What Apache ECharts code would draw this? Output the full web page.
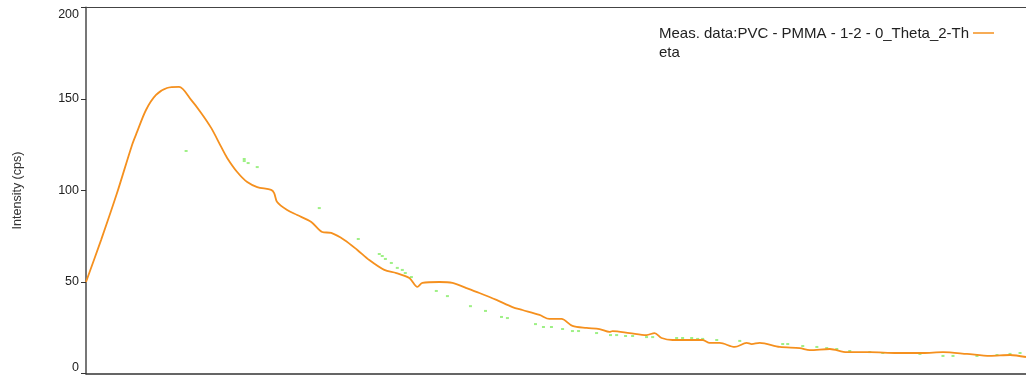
<!DOCTYPE html>
<html>
<head>
<meta charset="utf-8">
<script src="https://cdn.jsdelivr.net/npm/echarts@6/dist/echarts.min.js"></script>
<style>
html,body{margin:0;padding:0;background:#fff;}
#c{width:1026px;height:379px;}
</style>
</head>
<body>
<div id="c"></div>
<script>
// 2-Theta positions (deg) and intensities (cps) of measured curve
const measX = [5.00,5.96,6.98,7.94,8.26,8.83,9.47,10.17,10.94,11.71,12.35,12.99,13.63,14.01,14.65,15.29,15.93,16.82,17.01,17.20,17.84,18.48,19.38,20.08,20.65,21.49,22.32,23.08,24.04,24.81,25.64,26.15,26.47,27.56,28.39,29.28,30.11,31.20,32.22,32.86,33.95,34.58,35.35,36.05,36.95,37.78,38.42,38.61,39.70,40.78,41.29,41.74,42.44,43.53,44.36,44.81,45.45,46.41,47.17,47.49,48.00,49.28,50.56,51.20,52.48,53.56,55.03,56.76,58.42,59.70,61.23,62.70,63.98,65.00];
const measY = [50.0,72.9,98.6,124.9,132.0,144.0,152.2,156.0,156.6,149.5,142.4,134.2,123.8,117.8,110.1,104.6,101.9,100.3,98.6,93.7,89.3,86.6,82.8,77.3,76.8,73.0,67.5,62.0,56.6,54.9,52.2,47.3,49.5,50.0,49.5,46.7,44.0,40.2,36.3,34.7,32.0,29.8,29.8,26.0,24.9,24.3,22.7,23.2,22.1,21.0,22.1,19.4,18.3,18.3,18.3,16.7,16.7,14.5,16.7,16.1,16.7,14.5,13.9,12.8,13.4,11.7,11.7,11.2,11.2,11.7,10.7,9.6,10.1,9.0];
// faint green secondary points
const greenX = [11.39,15.10,15.10,15.35,15.93,19.89,22.38,23.72,23.91,24.11,24.49,24.87,25.19,25.38,25.77,27.36,28.07,29.54,30.50,31.52,31.90,33.69,34.20,34.71,35.42,36.05,36.44,37.59,38.48,38.87,39.44,39.89,40.78,41.17,42.70,43.08,43.66,44.04,44.36,45.26,46.73,49.47,49.79,50.75,51.65,52.28,52.92,53.75,55.03,55.86,57.14,58.23,59.70,60.34,61.87,63.15,63.98,64.62];
const greenY = [121.6,117.2,116.1,115.0,112.8,90.4,73.5,65.3,64.2,62.6,60.4,57.7,56.6,54.9,52.7,45.1,42.3,36.8,34.2,30.9,30.3,27.0,25.4,25.4,24.3,23.2,23.2,22.1,21.0,21.0,20.5,20.5,19.9,19.9,19.4,19.4,19.4,18.9,18.9,18.3,17.8,16.1,16.1,15.0,14.5,13.9,13.4,12.3,11.7,11.2,11.2,10.7,9.6,9.6,9.6,10.1,10.7,11.2];
const yTicks = [0,50,100,150,200];
const seriesName = 'Meas. data:PVC - PMMA - 1-2 - 0_Theta_2-Theta';
const yTitle = 'Intensity (cps)';

const chart = echarts.init(document.getElementById('c'), null, {renderer:'canvas'});
const font = '"Liberation Sans", Arial, sans-serif';
chart.setOption({
  animation:false,
  backgroundColor:'#fff',
  grid:{left:86, right:0, top:7.5, bottom:5.5, show:false},
  xAxis:[
    {type:'value', min:5, max:65, axisLine:{show:true, lineStyle:{color:'#333', width:1.5}}, axisTick:{show:false}, axisLabel:{show:false}, splitLine:{show:false}},
    {type:'value', position:'top', min:5, max:65, axisLine:{show:true, lineStyle:{color:'#444', width:1.2}}, axisTick:{show:false}, axisLabel:{show:false}, splitLine:{show:false}}
  ],
  yAxis:{type:'value', min:yTicks[0], max:yTicks[yTicks.length-1], interval:50,
    name:yTitle, nameLocation:'middle', nameGap:62, nameRotate:90,
    nameTextStyle:{fontFamily:font, fontSize:12.5, color:'#333'},
    axisLine:{show:true, lineStyle:{color:'#777', width:2}},
    axisTick:{show:true, inside:false, length:5, lineStyle:{color:'#333'}},
    splitLine:{show:false},
    axisLabel:{margin:7, fontFamily:font, fontSize:12.5, color:'#222',
      formatter:v=> v===0 ? '{lo|0}' : (v===200 ? '{hi|200}' : '{n|'+v+'}'),
      rich:{lo:{fontFamily:font, fontSize:12.5, color:'#222', padding:[0,0,12,0]},
            hi:{fontFamily:font, fontSize:12.5, color:'#222', padding:[15,0,0,0]},
            n:{fontFamily:font, fontSize:12.5, color:'#222'}}}
  },
  series:[
    {name:'green', type:'scatter', silent:true, symbol:'rect', symbolSize:[3,2],
      itemStyle:{color:'#86ec66'}, data:greenX.map((x,i)=>[x,greenY[i]]), z:1},
    {name:seriesName, type:'line', showSymbol:false, smooth:0.3,
      lineStyle:{color:'#f5901e', width:1.8}, itemStyle:{color:'#f5901e'},
      data:measX.map((x,i)=>[x,measY[i]]), z:2}
  ],
  graphic:[
    {type:'text', left:659, top:24, style:{text:'Meas. data:PVC - PMMA - 1-2 - 0_Theta_2-Th\neta', font:'15px '+font, fill:'#222', lineHeight:19}},
    {type:'line', shape:{x1:973, y1:33, x2:994, y2:33}, style:{stroke:'#f5901e', lineWidth:1.5}}
  ]
});
</script>
</body>
</html>
